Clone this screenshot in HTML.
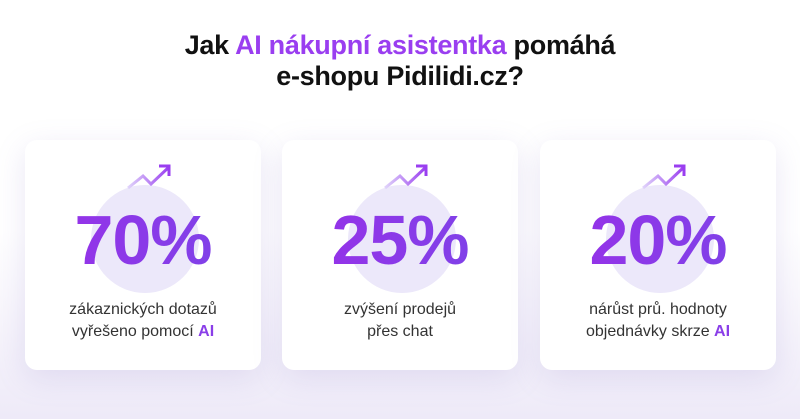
<!DOCTYPE html>
<html><head><meta charset="utf-8"><style>
body{margin:0;width:800px;height:419px;overflow:hidden;font-family:"Liberation Sans","DejaVu Sans",sans-serif;background:linear-gradient(180deg,#fff 0%,#fff 55%,#eeeaf8 100%);position:relative}
h1{position:absolute;top:30px;left:0;width:800px;text-align:center;margin:0;font-size:27px;line-height:31px;font-weight:bold;color:#111;letter-spacing:-0.3px}
h1 span{color:#9a3ef0}
.card{position:absolute;top:140px;width:236px;height:230px;background:#fff;border-radius:12px;box-shadow:0 8px 30px rgba(140,120,200,0.18)}
.circ{position:absolute;left:66px;top:45px;width:108px;height:108px;border-radius:50%;background:#ece8fa}
.pct{position:absolute;top:60px;left:0;width:236px;text-align:center;font-size:70px;font-weight:bold;letter-spacing:-1px;background:linear-gradient(90deg,#9a2fe8,#7a45e8);-webkit-background-clip:text;color:transparent}
.lab{position:absolute;top:159px;left:0;width:236px;text-align:center;font-size:16px;line-height:22px;color:#333}
.lab b{color:#8a3ee8;font-weight:bold}
svg{position:absolute;left:100px;top:22px}
</style></head><body>
<h1>Jak <span>AI nákupní asistentka</span> pomáhá<br>e-shopu Pidilidi.cz?</h1>
<div class="card" style="left:25px"><div class="circ"></div>
<svg width="50" height="30"><polyline points="3,26 18,14 26,22 44,5" fill="none" stroke="url(#g)" stroke-width="3"/><polyline points="34,4 44,4 44,14" fill="none" stroke="#9a3ef0" stroke-width="3"/><defs><linearGradient id="g"><stop offset="0" stop-color="#e0d4fa"/><stop offset="1" stop-color="#9a3ef0"/></linearGradient></defs></svg>
<div class="pct">70%</div><div class="lab">zákaznických dotazů<br>vyřešeno pomocí <b>AI</b></div></div>
<div class="card" style="left:282px"><div class="circ"></div>
<svg width="50" height="30"><polyline points="3,26 18,14 26,22 44,5" fill="none" stroke="url(#g)" stroke-width="3"/><polyline points="34,4 44,4 44,14" fill="none" stroke="#9a3ef0" stroke-width="3"/></svg>
<div class="pct">25%</div><div class="lab">zvýšení prodejů<br>přes chat</div></div>
<div class="card" style="left:540px"><div class="circ"></div>
<svg width="50" height="30"><polyline points="3,26 18,14 26,22 44,5" fill="none" stroke="url(#g)" stroke-width="3"/><polyline points="34,4 44,4 44,14" fill="none" stroke="#9a3ef0" stroke-width="3"/></svg>
<div class="pct">20%</div><div class="lab">nárůst prů. hodnoty<br>objednávky skrze <b>AI</b></div></div>
</body></html>
